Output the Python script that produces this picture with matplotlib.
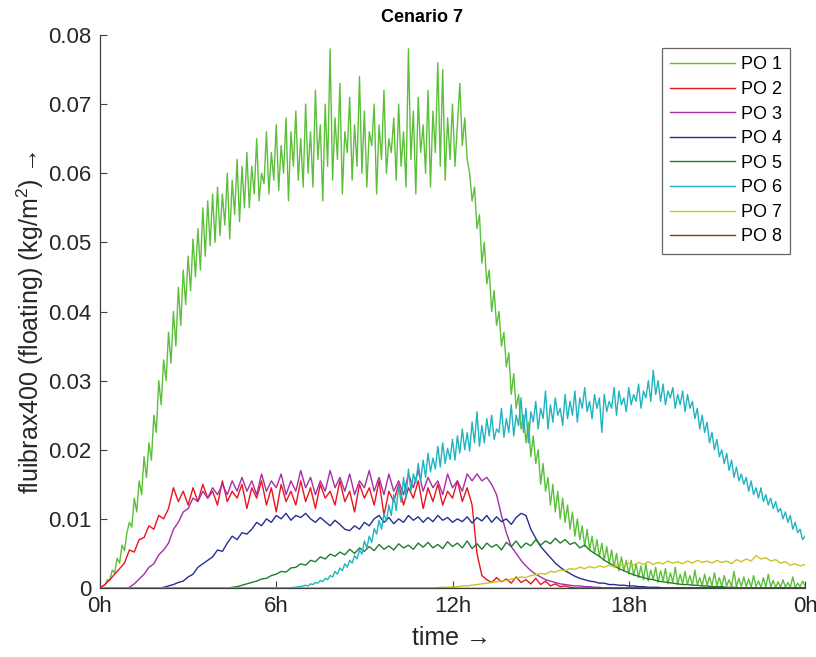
import numpy as np
import matplotlib
matplotlib.use("Agg")
import matplotlib.pyplot as plt

plt.rcParams['font.family'] = ['Liberation Sans', 'DejaVu Sans']
plt.rcParams['mathtext.fontset'] = 'custom'
plt.rcParams['mathtext.rm'] = 'Liberation Sans'
plt.rcParams['mathtext.it'] = 'Liberation Sans:italic'

# Floating fluibrax400 per observation point, in g/m^2.
# PO 1 and PO 6 are sampled every 5 minutes, the others every 10 minutes (0h .. 24h).
po1 = [0, 0.3, 0.4, 1.2, 1.1, 2.6, 2.2, 4.3, 3.6, 6.2, 5.4, 8.0,
       9.5, 8.8, 13, 11, 15.5, 13.5, 19, 16, 21, 18.5, 25, 22.5,
       30, 26.5, 33, 30, 37, 32.5, 40, 35, 43.5, 38, 46, 41,
       48, 43, 50.5, 45, 52, 46, 55, 48, 56, 49.5, 57, 50,
       58, 51, 57, 52.5, 60, 50.5, 59, 54, 62, 53, 61, 55,
       63, 55, 61, 57, 65, 56, 60, 58.5, 66, 57, 63, 59,
       67, 57.5, 64, 60, 68, 56, 66, 61, 69, 59, 65, 58,
       70, 60, 66, 58, 72, 62, 67, 56, 70, 61, 78, 59,
       68, 62, 73, 57, 66, 63, 71, 59, 67, 61, 74, 60,
       69, 58, 66, 64, 70, 57, 67, 62, 72, 60, 65, 63,
       68, 59, 70, 61, 66, 58, 78, 62, 69, 57, 71, 63,
       67, 60, 72, 58, 69, 63, 76, 61, 75, 59, 68, 62,
       70, 61, 67, 73, 64, 68, 62, 60, 56, 58, 52, 54,
       47, 50, 44, 46, 40, 43, 38, 40, 35, 37, 32, 34,
       28, 31, 26, 28, 23, 25, 21, 24, 19, 22, 18, 20,
       15, 18, 14, 16, 12, 15, 11, 14, 10, 13, 9.5, 12,
       8.5, 11, 7.5, 10, 7, 9, 6, 8.5, 5.5, 7.5, 5, 7,
       4.5, 6.5, 4, 6, 3.5, 5.5, 3, 5, 2.5, 4.5, 2.5, 4,
       2, 4, 1.8, 3.5, 1.5, 3.2, 1.2, 3.5, 1.0, 2.6, 1.2, 3.0,
       0.8, 2.5, 1.0, 2.8, 0.6, 2.2, 0.8, 3.0, 0.5, 2.0, 0.6, 2.4,
       0.5, 1.8, 0.4, 2.6, 0.5, 1.5, 0.3, 2.0, 0.4, 1.6, 0.3, 2.2,
       0.3, 1.5, 0.2, 1.8, 0.3, 1.2, 0.2, 2.4, 0.2, 1.4, 0.2, 1.6,
       0.2, 1.3, 0.1, 1.8, 0.2, 1.0, 0.1, 1.5, 0.1, 2.0, 0.1, 1.1,
       0.1, 0.9, 0.1, 1.2, 0.1, 0.8, 0.1, 1.6, 0.1, 0.7, 0.2, 1.0,
       0.3]
po2 = [0, 0.5, 1.2, 2.0, 2.8, 3.6, 5.5, 5.2, 7.0, 7.3, 9.0, 8.5,
       10.5, 10, 11.5, 14.5, 12.5, 14, 12, 14.5, 12.5, 15, 13, 14,
       12, 15.5, 12.5, 14, 13, 15, 11.5, 14.5, 13, 15.5, 12, 14.5,
       11, 15, 12.5, 14, 12, 15.5, 12.5, 14.5, 11.5, 15, 13, 14,
       12, 15.5, 12.5, 14, 11, 15, 13, 14.5, 12, 15.5, 10.5, 14,
       12.5, 15, 12, 14.5, 13, 15.5, 11.5, 14.5, 12.5, 15, 12, 14,
       13, 15.5, 12.5, 14.5, 12, 5, 1.8, 1.2, 0.8, 1.5, 0.9, 1.3,
       0.7, 1.6, 0.8, 1.2, 0.6, 1.4, 0.5, 1.0, 0.3, 0.6, 0.2, 0.3,
       0.1, 0, 0, 0, 0, 0, 0, 0, 0, 0, 0, 0,
       0, 0, 0, 0, 0, 0, 0, 0, 0, 0, 0, 0,
       0, 0, 0, 0, 0, 0, 0, 0, 0, 0, 0, 0,
       0, 0, 0, 0, 0, 0, 0, 0, 0, 0, 0, 0,
       0]
po3 = [0, 0, 0, 0, 0, 0, 0.1, 0.6, 1.3, 2.0, 3.0, 3.5,
       4.8, 5.5, 6.5, 8.5, 9.5, 11, 11.5, 13, 12.5, 14, 13, 14.5,
       13.5, 15, 13.5, 15.5, 14, 16, 14, 15.5, 13.5, 16.5, 14, 15.5,
       14.5, 16.5, 13.5, 15.5, 14, 17, 14.5, 16, 13.5, 15.5, 14, 17,
       14.5, 16, 14, 16.5, 13.5, 15.5, 14.5, 17, 14, 16, 13.5, 16.5,
       14, 15.5, 13.5, 16.5, 14.5, 17, 14, 16, 14.5, 15.5, 13.5, 16.5,
       14.5, 15.5, 14, 16.5, 15.5, 16.5, 15.5, 16, 15, 13.5, 10.5, 8,
       6, 5, 4, 3.2, 2.5, 2.0, 1.6, 1.2, 1.0, 0.8, 0.6, 0.5,
       0.4, 0.3, 0.3, 0.2, 0.2, 0.1, 0.1, 0, 0, 0, 0, 0,
       0, 0, 0, 0, 0, 0, 0, 0, 0, 0, 0, 0,
       0, 0, 0, 0, 0, 0, 0, 0, 0, 0, 0, 0,
       0, 0, 0, 0, 0, 0, 0, 0, 0, 0, 0, 0,
       0]
po4 = [0, 0, 0, 0, 0, 0, 0, 0, 0, 0, 0, 0,
       0, 0.1, 0.3, 0.5, 0.8, 1.0, 1.6, 2.0, 3.0, 3.5, 4.0, 4.5,
       5.5, 5.3, 6.5, 7.5, 7.0, 8.0, 7.8, 8.5, 9.5, 9.0, 10, 9.5,
       10.5, 10, 10.8, 9.8, 10.5, 10.2, 10.8, 10, 9.5, 10.2, 9.6, 9.0,
       9.8, 9.2, 8.5, 8.3, 9.0, 8.5, 9.5, 9.0, 10, 10.5, 9.5, 10.2,
       9.3, 10, 9.5, 10.5, 9.8, 10.3, 9.5, 10.2, 9.6, 10.5, 9.8, 10.2,
       9.5, 10, 9.6, 10.3, 9.4, 10.2, 9.7, 10.5, 9.5, 10.3, 9.6, 10,
       9.2, 10.2, 10.8, 10.5, 8.5, 7.2, 6.0, 5.2, 4.4, 3.6, 3.0, 2.5,
       2.1, 1.7, 1.4, 1.2, 1.0, 0.9, 0.7, 0.7, 0.5, 0.5, 0.4, 0.4,
       0.3, 0.3, 0.2, 0.2, 0.1, 0.1, 0.1, 0, 0, 0, 0, 0,
       0, 0, 0, 0, 0, 0, 0, 0, 0, 0, 0, 0,
       0, 0, 0, 0, 0, 0, 0, 0, 0, 0, 0, 0,
       0]
po5 = [0, 0, 0, 0, 0, 0, 0, 0, 0, 0, 0, 0,
       0, 0, 0, 0, 0, 0, 0, 0, 0, 0, 0, 0,
       0, 0, 0, 0.1, 0.2, 0.4, 0.6, 0.8, 1.0, 1.3, 1.4, 1.8,
       2.0, 2.4, 2.3, 2.9, 3.0, 3.5, 3.3, 4.0, 3.8, 4.5, 4.2, 4.9,
       4.6, 5.2, 4.8, 5.6, 5.0, 5.8, 5.3, 6.0, 5.4, 6.3, 5.6, 6.1,
       5.5, 6.4, 5.8, 6.2, 5.6, 6.5, 5.9, 6.6, 5.8, 6.3, 5.7, 6.7,
       6.0, 6.5, 5.8, 6.8, 5.7, 6.4, 5.6, 6.5, 5.9, 6.3, 5.5, 6.6,
       6.0, 6.8, 5.8, 6.5, 6.1, 7.0, 6.2, 6.8, 6.4, 7.2, 6.5, 7.0,
       6.3, 6.6, 5.8, 6.2, 5.5, 5.0, 4.6, 4.0, 3.6, 3.2, 2.8, 2.5,
       2.2, 1.9, 1.7, 1.5, 1.3, 1.2, 1.0, 0.9, 0.8, 0.7, 0.6, 0.5,
       0.5, 0.4, 0.4, 0.3, 0.3, 0.2, 0.2, 0.2, 0.1, 0.1, 0.1, 0,
       0, 0, 0, 0, 0, 0, 0, 0, 0, 0, 0, 0,
       0]
po6 = [0] * 72 + [
       0, 0, 0, 0, 0, 0, 0.05, 0.1, 0.1, 0.2, 0.2, 0.3,
       0.4, 0.3, 0.6, 0.5, 0.8, 0.7, 1.1, 0.9, 1.4, 1.2, 1.8, 1.6,
       2.4, 2.0, 2.9, 2.5, 3.5, 3.0, 4.0, 3.6, 4.7, 4.2, 5.5, 4.9,
       6.8, 5.8, 7.5, 6.6, 8.6, 7.8, 9.8, 8.5, 10.8, 9.6, 12.0, 10.5,
       13.5, 11.2, 14.8, 12.4, 16.0, 13.0, 17.2, 14.0, 16.5, 15.2, 18.0, 15.5,
       18.5, 16.0, 19.5, 16.8, 18.8, 17.2, 20.5, 17.5, 21.0, 18.0, 20.2, 18.6,
       21.5, 18.5, 22.0, 19.5, 23.0, 20.0, 22.5, 19.8, 24.0, 21.0, 25.5, 20.5,
       23.5, 21.0, 24.5, 22.0, 25.0, 21.5, 23.0, 22.5, 26.0, 21.8, 24.5, 22.5,
       26.5, 22.0, 25.0, 23.5, 27.5, 22.5, 26.0, 21.0, 25.5, 24.0, 27.0, 23.0,
       26.0, 24.5, 28.5, 23.0, 26.5, 24.0, 27.5, 25.0, 26.0, 23.5, 28.0, 24.5,
       27.0, 25.0, 28.5, 24.0, 27.5, 26.0, 29.0, 25.5, 27.0, 24.5, 28.0, 26.0,
       27.5, 22.5, 28.0, 25.5, 27.0, 26.0, 29.0, 25.0, 28.5, 26.5, 27.5, 25.5,
       29.0, 26.5, 28.0, 27.0, 29.5, 26.0, 28.5, 27.5, 30.0, 27.0, 31.5, 28.0,
       30.0, 27.0, 29.5, 26.5, 28.5, 27.5, 29.0, 26.0, 28.0, 26.5, 28.5, 25.5,
       28.0, 26.0, 27.0, 24.5, 26.0, 23.0, 25.0, 22.5, 24.0, 21.0, 22.5, 20.0,
       21.5, 19.0, 20.0, 18.0, 19.5, 17.0, 18.5, 16.0, 17.5, 15.5, 16.5, 15.0,
       16.0, 14.0, 15.5, 13.5, 14.5, 13.0, 14.5, 12.5, 13.5, 12.0, 13.0, 11.5,
       12.5, 11.0, 11.5, 10.0, 11.0, 9.5, 10.5, 8.5, 9.5, 8.0, 8.5, 7.0,
       7.5]
po7 = [0] * 60 + [
       0, 0, 0, 0, 0, 0, 0, 0, 0, 0.05, 0.1, 0.1,
       0.15, 0.2, 0.3, 0.3, 0.4, 0.5, 0.6, 0.7, 0.8, 0.9, 1.0, 1.1,
       1.3, 1.4, 1.6, 1.5, 1.8, 1.9, 2.1, 2.0, 2.4, 2.3, 2.6, 2.5,
       2.8, 2.7, 3.0, 2.8, 3.1, 2.9, 3.2, 3.0, 3.3, 3.1, 3.5, 3.2,
       3.6, 3.3, 3.7, 3.4, 3.8, 3.4, 3.7, 3.5, 3.9, 3.6, 3.8, 3.5,
       3.9, 3.6, 4.0, 3.7, 3.9, 3.6, 4.0, 3.7, 3.9, 3.5, 4.1, 3.8,
       4.2, 3.9, 4.7, 4.2, 4.4, 3.9, 4.1, 3.6, 3.8, 3.3, 3.5, 3.2,
       3.4]
po8 = [0] * 145

series_names = ['PO 1', 'PO 2', 'PO 3', 'PO 4', 'PO 5', 'PO 6', 'PO 7', 'PO 8']
series_values = [po1, po2, po3, po4, po5, po6, po7, po8]
series_colors = ['#5cbf3a', '#e8141e', '#a62ea8', '#262d94', '#1f7f2a',
                 '#1fb4bf', '#c9c522', '#8a3b1c']

xtick_hours = [0, 6, 12, 18, 24]
xtick_labels = ['0h', '6h', '12h', '18h', '0h']
ytick_values = [0, 0.01, 0.02, 0.03, 0.04, 0.05, 0.06, 0.07, 0.08]
ytick_labels = ['0', '0.01', '0.02', '0.03', '0.04', '0.05', '0.06', '0.07', '0.08']

W, H = 816, 657
fig = plt.figure(figsize=(W / 100, H / 100), dpi=100)
ax = fig.add_axes([100 / W, 1 - 588 / H, 705 / W, 553 / H])

for name, vals, col in zip(series_names, series_values, series_colors):
    v = np.asarray(vals, dtype=float) / 1000.0          # g/m^2 -> kg/m^2
    t = np.linspace(0.0, 24.0, len(v))                  # hours
    ax.plot(t, v, color=col, lw=1.0, label=name)

axis_col = '#404040'
text_col = '#262626'
ax.set_xlim(0, 24)
ax.set_ylim(0, 0.08)
ax.set_xticks(xtick_hours)
ax.set_xticklabels(xtick_labels)
ax.set_yticks(ytick_values)
ax.set_yticklabels(ytick_labels)
ax.tick_params(direction='in', length=5, width=0.8, colors=axis_col,
               labelcolor=text_col, labelsize=16, pad=6)
for side in ('top', 'right'):
    ax.spines[side].set_visible(False)
for side in ('left', 'bottom'):
    ax.spines[side].set_color(axis_col)
    ax.spines[side].set_linewidth(0.9)

ax.set_title('Cenario 7', fontsize=13, fontweight='bold', x=0.457, pad=9)
fig.text(452 / W, 1 - 638 / H, 'time \u2192', fontsize=18, color=text_col,
         ha='center', va='center')
fig.text(30 / W, 1 - 322 / H, 'fluibrax400 (floating) (kg/m$^2$) \u2192',
         fontsize=18, color=text_col, rotation=90, ha='center', va='center')

leg = ax.legend(loc='upper right', bbox_to_anchor=(0.979, 0.976),
                fontsize=13, frameon=True, fancybox=False,
                handlelength=3.6, handletextpad=0.35, labelspacing=0.42,
                borderpad=0.45, borderaxespad=0)
leg.get_frame().set_edgecolor(axis_col)
leg.get_frame().set_linewidth(0.9)
for line in leg.get_lines():
    line.set_linewidth(1.0)

fig.savefig('out.png', dpi=100)
